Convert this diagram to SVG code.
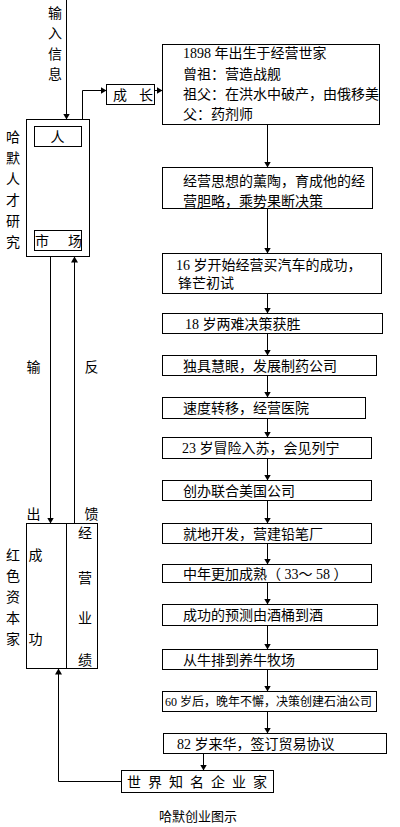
<svg xmlns="http://www.w3.org/2000/svg" width="400" height="827" viewBox="0 0 400 827">
<defs>
<marker id="ah" markerUnits="userSpaceOnUse" markerWidth="8" markerHeight="7" refX="6" refY="3.5" orient="auto">
<path d="M0,0 L6,3.5 L0,7 z" fill="#000"/>
</marker>
<style>
rect{fill:#fff;stroke:#000;stroke-width:1}
.c line,.c path{stroke:#000;stroke-width:1;fill:none}
.a{marker-end:url(#ah)}
text{font-family:"Liberation Serif","Noto Sans CJK SC",serif;font-size:14px;fill:#000}
.m{text-anchor:middle}
.s{font-size:12px}
</style>
</defs>
<rect x="0" y="0" width="400" height="827" style="stroke:none"/>

<g class="c" id="connectors">
<line class="a" x1="66.5" y1="0" x2="66.5" y2="119.5"/>
<line class="a" x1="50.5" y1="146.5" x2="50.5" y2="230.5"/>
<line class="a" x1="66.5" y1="230.5" x2="66.5" y2="146.5"/>
<path class="a" d="M82.5,119.5 V90.5 H106.5"/>
<line class="a" x1="154.5" y1="90.5" x2="162.5" y2="90.5"/>
<line class="a" x1="50.5" y1="256.5" x2="50.5" y2="523.5"/>
<line class="a" x1="74.5" y1="523.5" x2="74.5" y2="256.5"/>
<line class="a" x1="267.5" y1="124.5" x2="267.5" y2="167.5"/>
<line class="a" x1="267.5" y1="208.5" x2="267.5" y2="253.5"/>
<line class="a" x1="267.5" y1="293.5" x2="267.5" y2="313.5"/>
<line class="a" x1="267.5" y1="333.5" x2="267.5" y2="355.5"/>
<line class="a" x1="267.5" y1="375.5" x2="267.5" y2="397.5"/>
<line class="a" x1="267.5" y1="418.5" x2="267.5" y2="437.5"/>
<line class="a" x1="267.5" y1="458.5" x2="267.5" y2="480.5"/>
<line class="a" x1="267.5" y1="500.5" x2="267.5" y2="523.5"/>
<line class="a" x1="267.5" y1="543.5" x2="267.5" y2="564.5"/>
<line class="a" x1="267.5" y1="582.5" x2="267.5" y2="604.5"/>
<line class="a" x1="267.5" y1="625.5" x2="267.5" y2="649.5"/>
<line class="a" x1="267.5" y1="669.5" x2="267.5" y2="691.5"/>
<line class="a" x1="267.5" y1="711.5" x2="267.5" y2="733.5"/>
<line class="a" x1="203.5" y1="753.5" x2="203.5" y2="770.5"/>
<path class="a" d="M121.5,781.5 H58.5 V668.5"/>
</g>

<g id="input-label">
<text class="m" x="55" y="18">输</text>
<text class="m" x="55" y="38">入</text>
<text class="m" x="55" y="59">信</text>
<text class="m" x="55" y="79">息</text>
</g>

<g id="research">
<rect x="26.5" y="119.5" width="63" height="137"/>
<text class="m" x="13" y="142">哈</text>
<text class="m" x="13" y="163">默</text>
<text class="m" x="13" y="184">人</text>
<text class="m" x="13" y="205">才</text>
<text class="m" x="13" y="226">研</text>
<text class="m" x="13" y="247">究</text>
</g>
<g id="ren">
<rect x="34.5" y="126.5" width="47" height="20"/>
<text class="m" x="57.5" y="142">人</text>
</g>
<g id="shichang">
<rect x="34.5" y="230.5" width="47" height="20"/>
<text x="35" y="246" textLength="47" lengthAdjust="spacing">市 场</text>
</g>
<g id="chengzhang">
<rect x="106.5" y="84.5" width="48" height="20"/>
<text x="113" y="100" textLength="40" lengthAdjust="spacing">成 长</text>
</g>

<g id="io-labels">
<text class="m" x="33.5" y="372">输</text>
<text class="m" x="91.5" y="372">反</text>
<text class="m" x="33.5" y="519">出</text>
<text class="m" x="91.5" y="519">馈</text>
</g>

<g id="capitalist">
<rect x="26.5" y="523.5" width="71" height="145"/>
<line x1="66.5" y1="523.5" x2="66.5" y2="668.5" stroke="#000"/>
<text class="m" x="13" y="560">红</text>
<text class="m" x="13" y="581">色</text>
<text class="m" x="13" y="602">资</text>
<text class="m" x="13" y="623">本</text>
<text class="m" x="13" y="644">家</text>
<text class="m" x="35.5" y="560">成</text>
<text class="m" x="35.5" y="644">功</text>
<text class="m" x="85" y="538">经</text>
<text class="m" x="85" y="583">营</text>
<text class="m" x="85" y="623">业</text>
<text class="m" x="85" y="665">绩</text>
</g>

<g id="b1">
<rect x="162.5" y="44.5" width="217" height="80"/>
<text x="183" y="58">1898 年出生于经营世家</text>
<text x="183" y="79">曾祖：营造战舰</text>
<text x="183" y="99">祖父：在洪水中破产，由俄移美</text>
<text x="183" y="119">父：药剂师</text>
</g>
<g id="b2">
<rect x="162.5" y="167.5" width="210" height="41"/>
<text x="183" y="186">经营思想的薰陶，育成他的经</text>
<text x="183" y="206">营胆略，乘势果断决策</text>
</g>
<g id="b3">
<rect x="162.5" y="253.5" width="219" height="40"/>
<text x="176" y="270">16 岁开始经营买汽车的成功，</text>
<text x="178" y="288">锋芒初试</text>
</g>
<g id="b4">
<rect x="162.5" y="313.5" width="220" height="20"/>
<text x="185" y="329">18 岁两难决策获胜</text>
</g>
<g id="b5">
<rect x="162.5" y="355.5" width="214" height="20"/>
<text x="183" y="371">独具慧眼，发展制药公司</text>
</g>
<g id="b6">
<rect x="162.5" y="397.5" width="203" height="21"/>
<text x="183" y="413">速度转移，经营医院</text>
</g>
<g id="b7">
<rect x="162.5" y="437.5" width="209" height="21"/>
<text x="182" y="453">23 岁冒险入苏，会见列宁</text>
</g>
<g id="b8">
<rect x="162.5" y="480.5" width="209" height="20"/>
<text x="183" y="496">创办联合美国公司</text>
</g>
<g id="b9">
<rect x="162.5" y="523.5" width="209" height="20"/>
<text x="183" y="539">就地开发，营建铅笔厂</text>
</g>
<g id="b10">
<rect x="162.5" y="564.5" width="209" height="18"/>
<text x="183" y="579">中年更加成熟（ 33～ 58 ）</text>
</g>
<g id="b11">
<rect x="162.5" y="604.5" width="215" height="21"/>
<text x="183" y="620">成功的预测由酒桶到酒</text>
</g>
<g id="b12">
<rect x="162.5" y="649.5" width="215" height="20"/>
<text x="183" y="665">从牛排到养牛牧场</text>
</g>
<g id="b13">
<rect x="162.5" y="691.5" width="214" height="20"/>
<text class="s" x="165" y="706">60 岁后，晚年不懈，决策创建石油公司</text>
</g>
<g id="b14">
<rect x="163.5" y="733.5" width="223" height="20"/>
<text x="177" y="749">82 岁来华，签订贸易协议</text>
</g>
<g id="famous">
<rect x="121.5" y="770.5" width="152" height="22"/>
<text x="127" y="787" textLength="140" lengthAdjust="spacing">世 界 知 名 企 业 家</text>
</g>
<text class="m" x="198" y="821" style="font-size:13px">哈默创业图示</text>
</svg>
